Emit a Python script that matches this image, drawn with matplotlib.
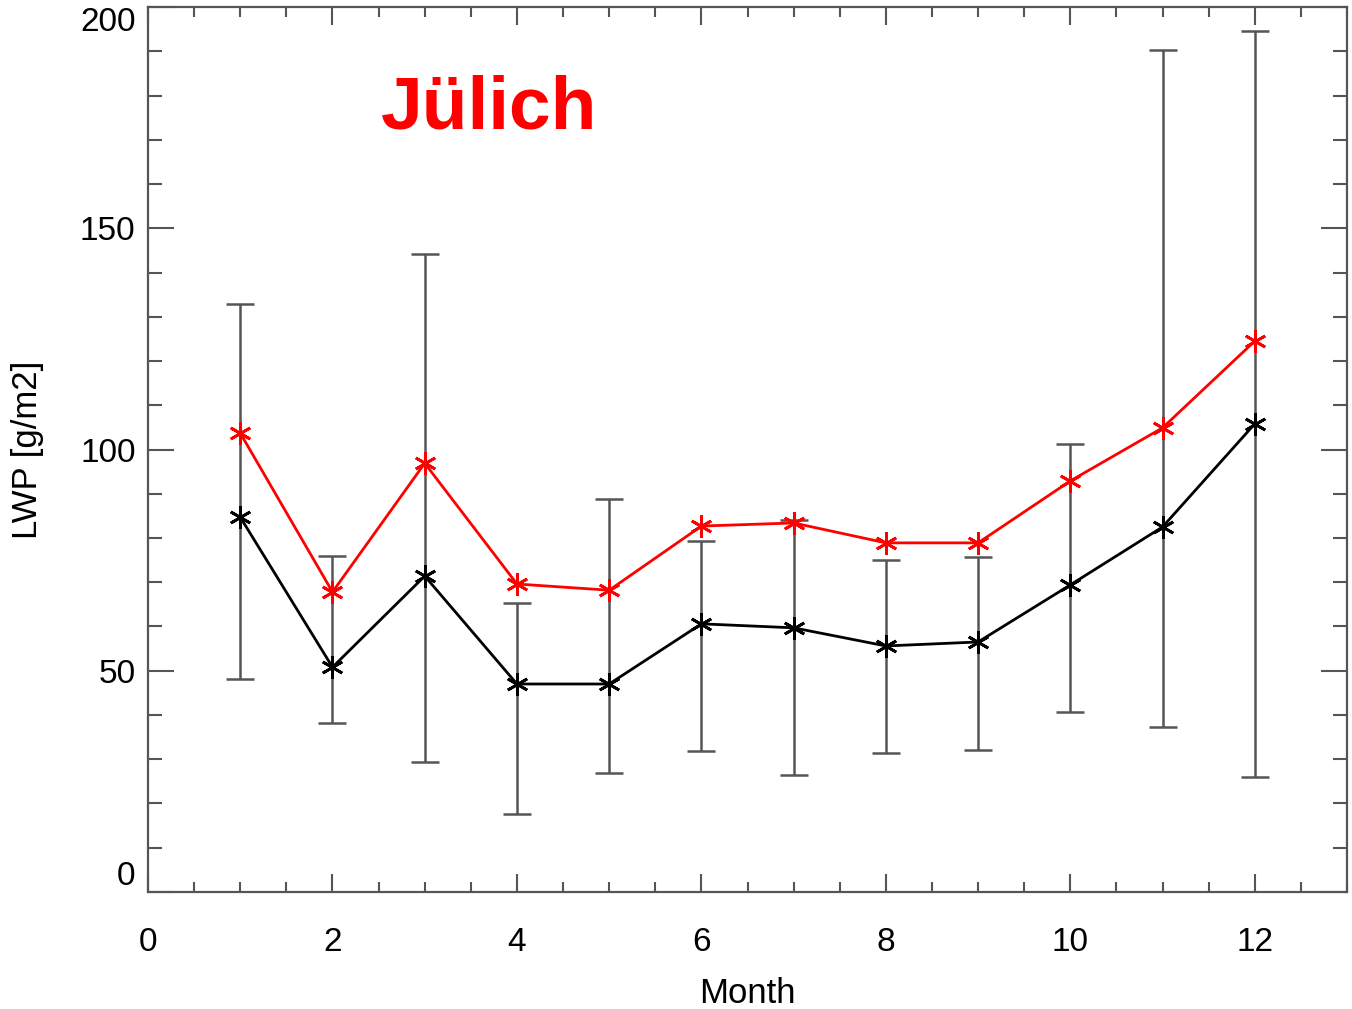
import matplotlib.pyplot as plt
import numpy as np

plt.rcParams['font.family'] = ['Liberation Sans', 'DejaVu Sans']

# ---- data ----
months = [1, 2, 3, 4, 5, 6, 7, 8, 9, 10, 11, 12]
lwp_black = [84.7, 50.8, 71.4, 47.0, 47.0, 60.6, 59.7, 55.6, 56.5, 69.4, 82.5, 105.8]
lwp_red = [103.7, 67.8, 96.9, 69.6, 68.2, 82.7, 83.4, 78.9, 78.9, 92.9, 104.9, 124.5]
err_top = [132.9, 75.9, 144.2, 65.3, 88.8, 79.3, 84.1, 75.0, 75.7, 101.2, 190.3, 194.6]
err_bot = [48.1, 38.2, 29.4, 17.6, 26.9, 31.9, 26.4, 31.4, 32.1, 40.7, 37.3, 26.0]

x_ticks = [0, 2, 4, 6, 8, 10, 12]
y_ticks = [0, 50, 100, 150, 200]

fig = plt.figure(figsize=(13.52, 10.09), dpi=100)
ax = fig.add_axes([0.1095, 0.116, 0.8868, 0.877])

asterisk = (6, 2, 0)
lo = np.array(lwp_black) - np.array(err_bot)
hi = np.array(err_top) - np.array(lwp_black)

ax.errorbar(months, lwp_black, yerr=[lo, hi], fmt='none', ecolor='#555555',
            elinewidth=1.8, capsize=10, capthick=1.8, zorder=1)
ax.plot(months, lwp_black, color='black', lw=2, marker=asterisk,
        ms=16, mew=2, zorder=3)
ax.plot(months, lwp_red, color='red', lw=2, marker=asterisk,
        ms=16, mew=2, zorder=4)

ax.text(2.52, 172.5, 'Jülich', color='red', fontsize=54, fontweight='bold')

ax.set_xlim(0, 13)
ax.set_ylim(0, 200)
ax.set_xticks(x_ticks)
ax.set_xticks(np.arange(0, 13.01, 0.5), minor=True)
ax.set_yticks(y_ticks)
ax.set_yticks(np.arange(0, 200.01, 10), minor=True)
ax.set_yticklabels([str(v) for v in y_ticks])
ax.get_yticklabels()[0].set_va('bottom')
ax.get_yticklabels()[-1].set_va('top')

ax.tick_params(axis='both', which='both', direction='in', top=True, right=True,
               color='#555555', width=1.5, labelsize=24)
ax.tick_params(axis='x', which='major', length=13, pad=25)
ax.tick_params(axis='x', which='minor', length=7)
ax.tick_params(axis='y', which='major', length=19, pad=9)
ax.tick_params(axis='y', which='minor', length=10)
for s in ax.spines.values():
    s.set_color('#555555')
    s.set_linewidth(1.6)

ax.set_xlabel('Month', fontsize=25, labelpad=14)
ax.set_ylabel('LWP [g/m2]', fontsize=25, labelpad=26)

fig.savefig('out.png', dpi=100)
